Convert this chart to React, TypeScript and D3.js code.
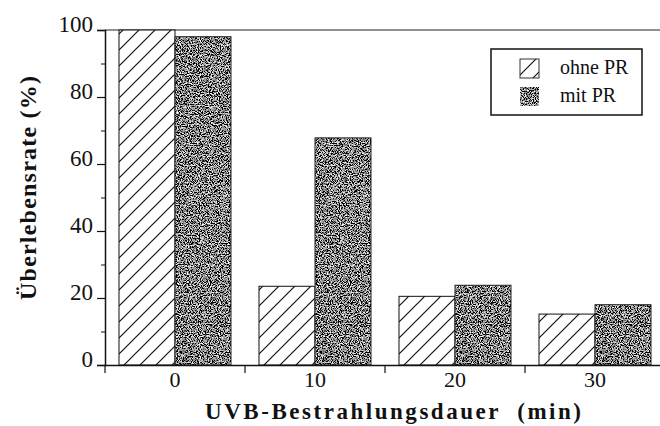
import React, { useEffect, useRef } from "react";
import * as d3 from "d3";

const categories = ["0", "10", "20", "30"];
const seriesNames = ["ohne PR", "mit PR"];
const ohnePR = [100, 23.5, 20.5, 15.2];
const mitPR = [98, 67.8, 23.8, 18];
const yTicks = [0, 20, 40, 60, 80, 100];
const yMinorTicks = [10, 30, 50, 70, 90];

const W = 660;
const H = 426;
const margin = { left: 105, top: 30, bottom: 61 };
const serif = "'Liberation Serif', Tinos, 'Noto Serif', 'DejaVu Serif', 'Times New Roman', Times, serif";

const App = () => {
  const svgRef = useRef<SVGSVGElement | null>(null);

  useEffect(() => {
    const svg = d3.select(svgRef.current);
    svg.selectAll("*").remove();

    const defs = svg.append("defs");
    const hatch = defs
      .append("pattern")
      .attr("id", "hatch")
      .attr("patternUnits", "userSpaceOnUse")
      .attr("width", 16)
      .attr("height", 16);
    hatch.append("rect").attr("width", 16).attr("height", 16).attr("fill", "#fff");
    hatch
      .append("path")
      .attr("d", "M0,16 L16,0 M-4,4 L4,-4 M12,20 L20,12")
      .attr("stroke", "#111")
      .attr("stroke-width", 1.2);

    // speckled dark grey fill for "mit PR"
    const noise = defs
      .append("filter")
      .attr("id", "noise")
      .attr("x", 0)
      .attr("y", 0)
      .attr("width", "100%")
      .attr("height", "100%")
      .attr("filterUnits", "objectBoundingBox");
    noise
      .append("feTurbulence")
      .attr("type", "fractalNoise")
      .attr("baseFrequency", 0.9)
      .attr("numOctaves", 3)
      .attr("seed", 7)
      .attr("result", "t");
    noise
      .append("feColorMatrix")
      .attr("in", "t")
      .attr("type", "matrix")
      .attr("values", "3.2 0 0 0 -1.35  3.2 0 0 0 -1.35  3.2 0 0 0 -1.35  0 0 0 0 1")
      .attr("result", "g");
    noise
      .append("feComposite")
      .attr("in", "g")
      .attr("in2", "SourceGraphic")
      .attr("operator", "in");

    const x = d3
      .scaleBand<string>()
      .domain(categories)
      .range([margin.left, margin.left + 4 * 140])
      .paddingInner(0)
      .paddingOuter(0);
    const xInner = d3
      .scaleBand<string>()
      .domain(seriesNames)
      .range([0, x.bandwidth()])
      .paddingInner(0)
      .paddingOuter(0.25);
    const y = d3
      .scaleLinear()
      .domain([0, 100])
      .range([H - margin.bottom, margin.top]);

    const chart = svg.append("g");

    // top frame line
    chart
      .append("line")
      .attr("x1", margin.left)
      .attr("x2", W)
      .attr("y1", y(100))
      .attr("y2", y(100))
      .attr("stroke", "#222")
      .attr("stroke-width", 1.2);

    // bars
    const rows = categories.map((c, i) => ({ c, vals: [ohnePR[i], mitPR[i]] }));
    const groups = chart
      .selectAll("g.grp")
      .data(rows)
      .enter()
      .append("g")
      .attr("class", "grp")
      .attr("transform", (d) => `translate(${x(d.c)},0)`);

    groups
      .append("rect")
      .attr("x", xInner("ohne PR")!)
      .attr("y", (d) => y(d.vals[0]))
      .attr("width", xInner.bandwidth())
      .attr("height", (d) => y(0) - y(d.vals[0]))
      .attr("fill", "url(#hatch)")
      .attr("stroke", "#111")
      .attr("stroke-width", 1);

    groups
      .append("rect")
      .attr("x", xInner("mit PR")!)
      .attr("y", (d) => y(d.vals[1]))
      .attr("width", xInner.bandwidth())
      .attr("height", (d) => y(0) - y(d.vals[1]))
      .attr("fill", "#555")
      .attr("filter", "url(#noise)");
    groups
      .append("rect")
      .attr("x", xInner("mit PR")!)
      .attr("y", (d) => y(d.vals[1]))
      .attr("width", xInner.bandwidth())
      .attr("height", (d) => y(0) - y(d.vals[1]))
      .attr("fill", "none")
      .attr("stroke", "#222")
      .attr("stroke-width", 1);

    // y axis
    const yAxis = chart
      .append("g")
      .attr("transform", `translate(${margin.left},0)`)
      .call(d3.axisLeft(y).tickValues(yTicks).tickSize(8).tickPadding(4));
    yAxis.select(".domain").attr("stroke", "#111").attr("stroke-width", 1.5);
    yAxis.selectAll(".tick line").attr("stroke", "#111").attr("stroke-width", 1.2);
    yAxis
      .selectAll(".tick text")
      .style("font-family", serif)
      .style("font-size", "23px")
      .attr("fill", "#111")
      .attr("dy", "0.08em");

    chart
      .append("g")
      .attr("transform", `translate(${margin.left},0)`)
      .call(d3.axisLeft(y).tickValues(yMinorTicks).tickSize(4).tickFormat(() => ""))
      .call((g) => g.select(".domain").remove())
      .selectAll(".tick line")
      .attr("stroke", "#111");

    // x axis
    const xAxis = chart
      .append("g")
      .attr("transform", `translate(0,${y(0)})`)
      .call(d3.axisBottom(x).tickSize(0).tickPadding(6).tickSizeOuter(0));
    xAxis.select(".domain").attr("stroke", "#111").attr("stroke-width", 1.5);
    xAxis
      .selectAll(".tick text")
      .style("font-family", serif)
      .style("font-size", "22px")
      .attr("fill", "#111");

    chart
      .append("g")
      .selectAll("line")
      .data(categories)
      .enter()
      .append("line")
      .attr("x1", (d) => x(d)!)
      .attr("x2", (d) => x(d)!)
      .attr("y1", y(0))
      .attr("y2", y(0) + 8)
      .attr("stroke", "#111")
      .attr("stroke-width", 1.2);

    // axis titles
    svg
      .append("text")
      .attr("transform", "translate(36,188) rotate(-90)")
      .attr("text-anchor", "middle")
      .attr("textLength", 224)
      .attr("lengthAdjust", "spacing")
      .style("font-family", serif)
      .style("font-weight", "bold")
      .style("font-size", "24px")
      .attr("fill", "#111")
      .text("Überlebensrate (%)");

    svg
      .append("text")
      .attr("x", 393)
      .attr("y", 419)
      .attr("text-anchor", "middle")
      .attr("textLength", 376)
      .attr("lengthAdjust", "spacing")
      .style("font-family", serif)
      .style("font-weight", "bold")
      .style("font-size", "23px")
      .style("white-space", "pre")
      .attr("fill", "#111")
      .text("UVB-Bestrahlungsdauer  (min)");

    // legend
    const legend = svg.append("g");
    legend
      .append("rect")
      .attr("x", 491)
      .attr("y", 49)
      .attr("width", 151)
      .attr("height", 66)
      .attr("fill", "#fff")
      .attr("stroke", "#111")
      .attr("stroke-width", 1.5);
    const items = legend
      .selectAll("g.item")
      .data(seriesNames)
      .enter()
      .append("g")
      .attr("class", "item")
      .attr("transform", (d, i) => `translate(520,${59 + i * 28})`);
    items
      .append("rect")
      .attr("width", 19)
      .attr("height", 19)
      .attr("fill", (d, i) => (i === 0 ? "url(#hatch)" : "#555"))
      .attr("filter", (d, i) => (i === 0 ? null : "url(#noise)"))
      .attr("stroke", (d, i) => (i === 0 ? "#333" : null))
      .attr("stroke-width", 1);
    items
      .append("text")
      .attr("x", 40)
      .attr("y", 15)
      .style("font-family", serif)
      .style("font-size", "20px")
      .attr("fill", "#111")
      .text((d) => d);
  }, []);

  return (
    <svg
      ref={svgRef}
      width={W}
      height={H}
      style={{ position: "absolute", left: 0, top: 0, background: "#fff" }}
    />
  );
};

export default App;
